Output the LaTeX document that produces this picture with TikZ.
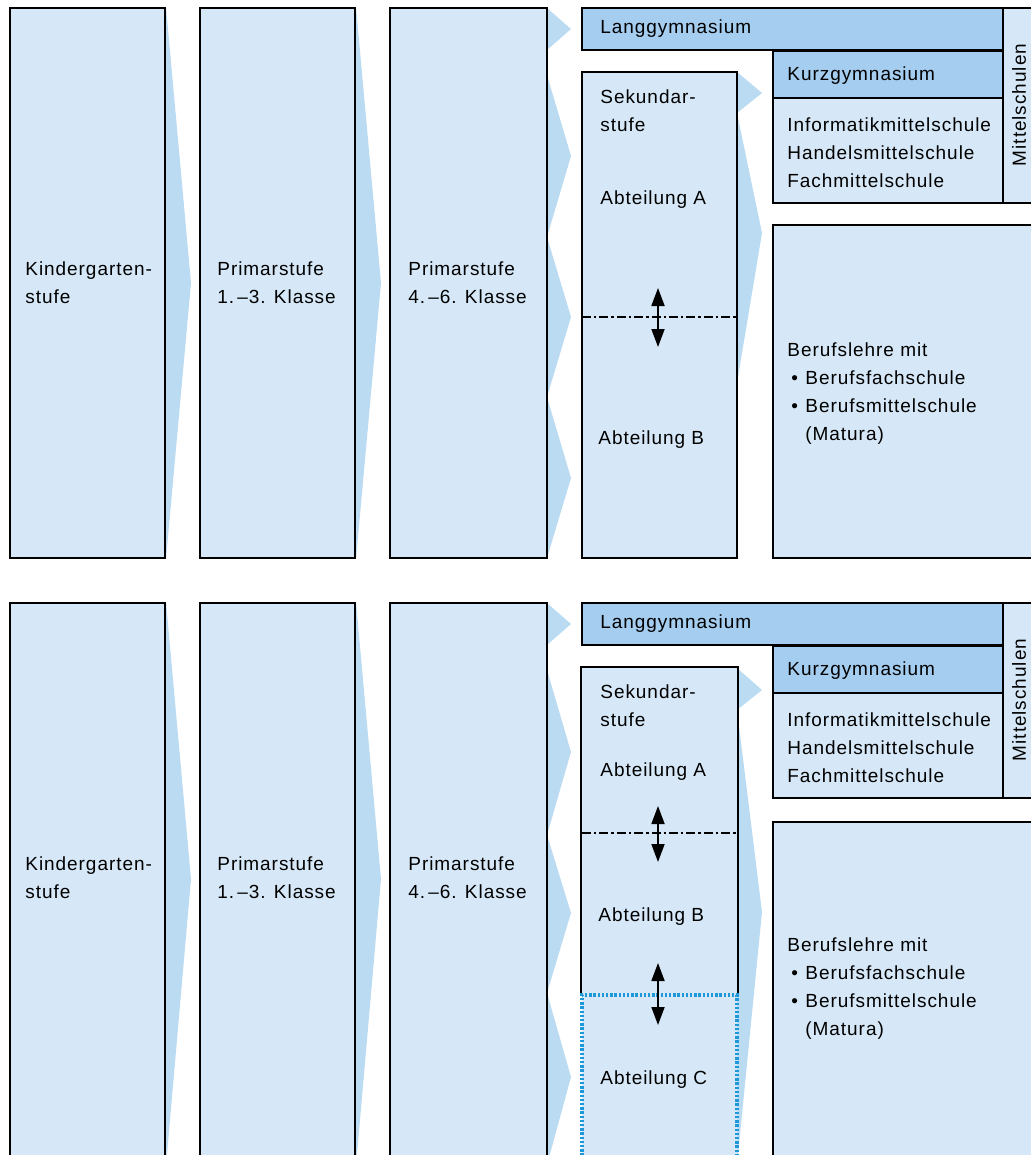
\documentclass[tikz,border=0pt]{standalone}
\usepackage{fontspec}
\setmainfont{Liberation Sans}[LetterSpace=5]
\usepackage{tikz}
\usetikzlibrary{calc}
\usetikzlibrary{arrows.meta}
\usetikzlibrary{fit}
\usetikzlibrary{backgrounds}

\definecolor{boxblue}{RGB}{214,232,247}
\definecolor{chevblue}{RGB}{187,219,243}
\definecolor{gymblue}{RGB}{164,205,239}
\definecolor{dotblue}{RGB}{30,152,216}

\tikzstyle{box} = [draw = black, line width = 1pt, fill = boxblue, inner sep = 0]
\tikzstyle{gym} = [box, fill = gymblue]
\tikzstyle{txt} = [inner sep = 0, align = left, anchor = west, font = \fontsize{9.5}{14}\selectfont]
\tikzstyle{chev} = [fill = chevblue, draw = none]
\tikzstyle{sep} = [line width = 0.8pt, dash pattern = on 4.5pt off 1.5pt on 1.2pt off 1.5pt]
\tikzstyle{dbl} = [{Triangle[length = 9pt, width = 6.5pt]}-{Triangle[length = 9pt, width = 6.5pt]}, line width = 0.9pt]
\newcommand{\bul}{\makebox[9pt][l]{\hspace{2pt}\textbullet}}

\begin{document}
\begin{tikzpicture}[x = 0.5pt, y = -0.5pt]
\clip (0, 0) rectangle (1031, 1155);

% upper chart
\node [box, fit = {(10, 8) (165, 558)}] (kg1) {};
\node [box, fit = {(200, 8) (355, 558)}] (ps1) {};
\node [box, fit = {(390, 8) (547, 558)}] (pm1) {};
\node [gym, fit = {(582, 8) (1003, 50)}] (lg1) {};
\node [box, fit = {(1003, 8) (1045, 203)}] (ms1) {};
\node [gym, fit = {(773, 51) (1003, 98)}] (kz1) {};
\node [box, fit = {(773, 98) (1003, 203)}] (im1) {};
\node [box, fit = {(582, 72) (737, 558)}] (sk1) {};
\node [box, fit = {(773, 225) (1045, 558)}] (bl1) {};

\node [txt] (kg1t) at (25, 283) {Kindergarten-\\stufe};
\node [txt] (ps1t) at (217, 283) {Primarstufe\\1.\,--3. Klasse};
\node [txt] (pm1t) at (408, 283) {Primarstufe\\4.\,--6. Klasse};
\node [txt] (lg1t) at (600, 29) {Langgymnasium};
\node [txt] (sk1t) at (600, 111) {Sekundar-\\stufe};
\node [txt] (sa1t) at (600, 200) {Abteilung A};
\node [txt] (sb1t) at (598, 440) {Abteilung B};
\node [txt] (kz1t) at (787, 76) {Kurzgymnasium};
\node [txt] (im1t) at (787, 153) {Informatikmittelschule\\Handelsmittelschule\\Fachmittelschule};
\node [txt, rotate = 90, anchor = center] (ms1t) at (1019, 105) {Mittelschulen};
\node [txt] (bl1t) at (787, 394) {Berufslehre mit\\\bul Berufsfachschule\\\bul Berufsmittelschule\\\hspace*{9pt}(Matura)};

\coordinate (d1l) at (582, 317);
\coordinate (d1r) at (737, 317);
\draw [sep] (d1l) -- (d1r);
\coordinate (u1) at (658, 288);
\coordinate (v1) at (658, 347);
\draw [dbl] (u1) -- (v1);

% lower chart
\node [box, fit = {(10, 603) (165, 1165)}] (kg2) {};
\node [box, fit = {(200, 603) (355, 1165)}] (ps2) {};
\node [box, fit = {(390, 603) (547, 1165)}] (pm2) {};
\node [gym, fit = {(582, 603) (1003, 645)}] (lg2) {};
\node [box, fit = {(1003, 603) (1045, 798)}] (ms2) {};
\node [gym, fit = {(773, 646) (1003, 693)}] (kz2) {};
\node [box, fit = {(773, 693) (1003, 798)}] (im2) {};
\node [box, draw = none, fit = {(582, 668) (737, 995)}] (sk2) {};
\draw [line width = 1pt] (sk2.south west) -- (sk2.north west) -- (sk2.north east) -- (sk2.south east);
\node [box, draw = dotblue, line width = 1.6pt, dash pattern = on 1.2pt off 0.9pt, fit = {(582, 995) (737, 1165)}] (sc2) {};
\node [box, fit = {(773, 822) (1045, 1165)}] (bl2) {};

\node [txt] (kg2t) at (25, 878) {Kindergarten-\\stufe};
\node [txt] (ps2t) at (217, 878) {Primarstufe\\1.\,--3. Klasse};
\node [txt] (pm2t) at (408, 878) {Primarstufe\\4.\,--6. Klasse};
\node [txt] (lg2t) at (600, 624) {Langgymnasium};
\node [txt] (sk2t) at (600, 706) {Sekundar-\\stufe};
\node [txt] (sa2t) at (600, 772) {Abteilung A};
\node [txt] (sb2t) at (598, 917) {Abteilung B};
\node [txt] (sc2t) at (600, 1080) {Abteilung C};
\node [txt] (kz2t) at (787, 671) {Kurzgymnasium};
\node [txt] (im2t) at (787, 748) {Informatikmittelschule\\Handelsmittelschule\\Fachmittelschule};
\node [txt, rotate = 90, anchor = center] (ms2t) at (1019, 700) {Mittelschulen};
\node [txt] (bl2t) at (787, 989) {Berufslehre mit\\\bul Berufsfachschule\\\bul Berufsmittelschule\\\hspace*{9pt}(Matura)};

\coordinate (d2l) at (582, 833);
\coordinate (d2r) at (737, 833);
\draw [sep] (d2l) -- (d2r);
\coordinate (u2) at (658, 806);
\coordinate (v2) at (658, 862);
\draw [dbl] (u2) -- (v2);
\coordinate (u3) at (658, 963);
\coordinate (v3) at (658, 1025);
\draw [dbl] (u3) -- (v3);

% chevrons
\begin{scope}[on background layer]
\foreach \b in {kg1, ps1}
  \fill [chev] (\b.north east) -- ($(\b.east) + (25, 0)$) -- (\b.south east) -- cycle;
\foreach \b in {kg2, ps2}
  \fill [chev] (\b.north east) -- ($(\b.north east) + (25, 277)$) -- (\b.south east) -- cycle;
\fill [chev] (547, 8) -- (571, 29) -- (547, 50) -- cycle;
\fill [chev] (547, 75) -- (571, 156) -- (547, 237) -- (571, 317) -- (547, 397) -- (571, 478) -- (547, 558) -- cycle;
\fill [chev] (737, 72) -- (762, 93) -- (737, 113) -- (762, 233) -- (737, 383) -- cycle;
\fill [chev] (547, 603) -- (571, 624) -- (547, 645) -- cycle;
\fill [chev] (547, 670) -- (571, 752) -- (547, 835) -- (571, 913) -- (547, 993) -- (571, 1077) -- (547, 1165) -- cycle;
\fill [chev] (737, 668) -- (762, 690) -- (737, 710) -- (762, 912) -- (737, 1165) -- cycle;
\end{scope}
\end{tikzpicture}
\end{document}
